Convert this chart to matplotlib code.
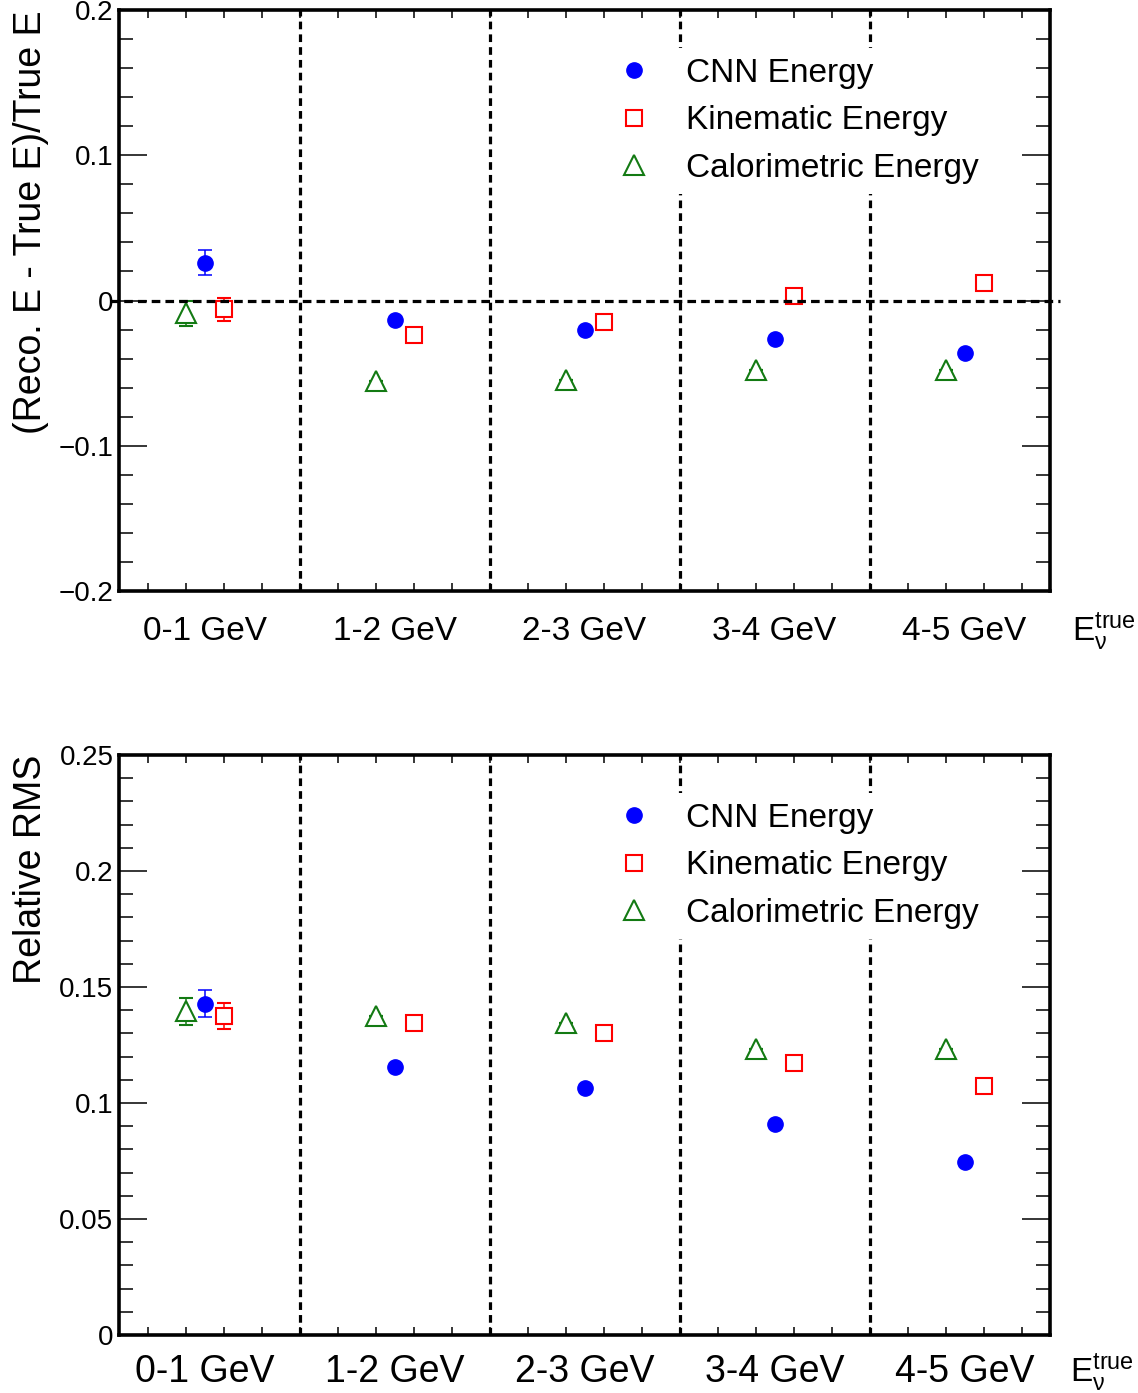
import numpy as np
import matplotlib.pyplot as plt
from matplotlib.ticker import MultipleLocator

plt.rcParams['font.family'] = ['Liberation Sans', 'DejaVu Sans']
plt.rcParams['mathtext.fontset'] = 'custom'
plt.rcParams['mathtext.rm'] = 'Liberation Sans'
plt.rcParams['mathtext.it'] = 'Liberation Sans:italic'

# energy bins
bins = ['0-1 GeV', '1-2 GeV', '2-3 GeV', '3-4 GeV', '4-5 GeV']
bin_centers = np.array([0.5, 1.5, 2.5, 3.5, 4.5])
bin_edges = [1, 2, 3, 4]
series = ['CNN Energy', 'Kinematic Energy', 'Calorimetric Energy']

# (Reco - True)/True
bias_cnn = [0.026, -0.0135, -0.0205, -0.0267, -0.036]
bias_cnn_err = [0.0087, 0, 0, 0, 0]
bias_kin = [-0.006, -0.0238, -0.0149, 0.0028, 0.0124]
bias_kin_err = [0.008, 0, 0, 0, 0]
bias_cal = [-0.0089, -0.0555, -0.055, -0.0475, -0.0478]
bias_cal_err = [0.0083, 0, 0, 0, 0]

# relative RMS
rms_cnn = [0.1428, 0.1156, 0.1063, 0.0908, 0.0747]
rms_cnn_err = [0.0059, 0, 0, 0, 0]
rms_kin = [0.1375, 0.1346, 0.1300, 0.1172, 0.1072]
rms_kin_err = [0.0056, 0, 0, 0, 0]
rms_cal = [0.1396, 0.1376, 0.1345, 0.1235, 0.1235]
rms_cal_err = [0.0058, 0, 0, 0, 0]

top_yticks = [-0.2, -0.1, 0, 0.1, 0.2]
top_ylabels = ['\u22120.2', '\u22120.1', '0', '0.1', '0.2']
bot_yticks = [0, 0.05, 0.1, 0.15, 0.2, 0.25]
bot_ylabels = ['0', '0.05', '0.1', '0.15', '0.2', '0.25']

blue = '#0000ff'
red = '#ff0000'
green = '#137a13'

fig = plt.figure(figsize=(11.38, 13.93), dpi=100)
ax1 = fig.add_axes([0.1046, 0.5757, 0.8181, 0.4171])
ax2 = fig.add_axes([0.1046, 0.0416, 0.8181, 0.4164])


def draw(ax, cnn, cnn_e, kin, kin_e, cal, cal_e, ylim, yticks, ylabels, ymajor_minor,
         ylabel, xfs, xpad, zero_line):
    ebkw = dict(linestyle='none', capsize=5, capthick=1.1, elinewidth=1.1, zorder=3)
    h1 = ax.errorbar(bin_centers, cnn, yerr=cnn_e, marker='o', ms=11, color=blue,
                     mec=blue, **ebkw)
    h2 = ax.errorbar(bin_centers + 0.1, kin, yerr=kin_e, marker='s', ms=12, color=red,
                     mfc='white', mec=red, mew=1.5, **ebkw)
    h3 = ax.errorbar(bin_centers - 0.1, cal, yerr=cal_e, marker='^', ms=14, color=green,
                     mfc='white', mec=green, mew=1.5, **ebkw)

    for e in bin_edges:
        ax.axvline(e, color='black', lw=2.3, dashes=(2.4, 1.6), zorder=1.5)
    if zero_line:
        ax.plot([0, 5], [0, 0], color='black', lw=2.3, dashes=(2.7, 1.6),
                clip_on=False, zorder=4)

    ax.set_xlim(0.05, 4.95)
    ax.set_ylim(*ylim)
    ax.xaxis.set_major_locator(MultipleLocator(0.2))
    ax.tick_params(axis='x', which='major', labelbottom=False)
    ax.set_xticks(bin_centers, labels=bins, minor=True)
    ax.tick_params(axis='x', which='minor', length=0, labelsize=xfs, pad=xpad)
    ax.tick_params(axis='x', which='major', direction='in', top=True, bottom=True,
                   length=6, width=1.1)
    ax.set_yticks(yticks, labels=ylabels)
    ax.yaxis.set_minor_locator(MultipleLocator(ymajor_minor))
    ax.tick_params(axis='y', which='major', direction='in', left=True, right=True,
                   length=20, width=1.1, labelsize=20, pad=4)
    ax.tick_params(axis='y', which='minor', direction='in', left=True, right=True,
                   length=10, width=1.1)
    for s in ax.spines.values():
        s.set_linewidth(2.6)

    ax.set_ylabel(ylabel, fontsize=27, loc='top')
    ax.yaxis.set_label_coords(-0.075, 1.0)

    ax.legend([h1[0], h2[0], h3[0]], series, loc='upper left',
              bbox_to_anchor=(0.525, 0.935), fontsize=24, frameon=True, fancybox=False,
              edgecolor='none', facecolor='white', framealpha=1, borderpad=0.3,
              handlelength=1.0, handletextpad=1.05, labelspacing=0.5, borderaxespad=0,
              numpoints=1)


draw(ax1, bias_cnn, bias_cnn_err, bias_kin, bias_kin_err, bias_cal, bias_cal_err,
     (-0.2, 0.2), top_yticks, top_ylabels, 0.02,
     '(Reco. E - True E)/True E', 24, 18, True)
draw(ax2, rms_cnn, rms_cnn_err, rms_kin, rms_kin_err, rms_cal, rms_cal_err,
     (0, 0.25), bot_yticks, bot_ylabels, 0.01,
     'Relative RMS', 27, 14, False)

ax1.text(1.0236, -0.086, r'$\mathregular{E_{\nu}^{true}}$', transform=ax1.transAxes,
         fontsize=24, va='baseline', ha='left')
ax2.text(1.0215, -0.081, r'$\mathregular{E_{\nu}^{true}}$', transform=ax2.transAxes,
         fontsize=24, va='baseline', ha='left')

fig.savefig('out.png', dpi=100)
